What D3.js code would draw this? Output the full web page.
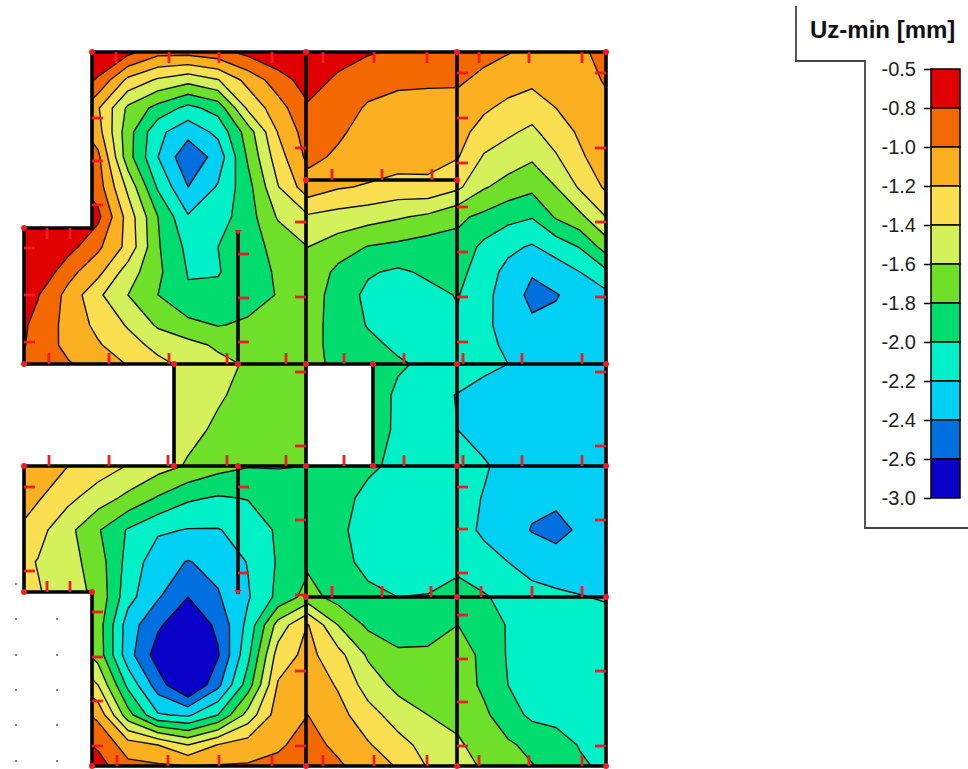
<!DOCTYPE html>
<html>
<head>
<meta charset="utf-8">
<title>Uz-min</title>
<script src="https://cdnjs.cloudflare.com/ajax/libs/d3/7.8.5/d3.min.js"></script>
<style>
  body { margin: 0; background: #fff; }
  svg { display: block; }
</style>
</head>
<body>
<div id="chart"></div>
<script>
// plan stations of the result mesh (cm on the slab)
var meshX = [-16, 14, 44, 74, 104, 134, 164, 194, 224, 254, 284, 314, 344, 374, 404, 434, 460, 484, 508, 532, 556, 584];
var meshY = [0, 28, 56, 80, 105, 135, 165, 195, 220, 243, 273, 293, 312, 343, 378, 414, 446, 478, 510, 545, 573, 603, 633, 663, 693, 718];

// Uz-min [mm], one row per meshY station
var uzRows = [
  [-0.5,-0.5,-0.5,-0.58,-0.74,-0.93,-0.93,-0.87,-0.74,-0.62,-0.55,-0.7,-0.78,-0.83,-0.87,-0.9,-0.94,-0.99,-1.05,-1.03,-1.03,-0.94],
  [-0.5,-0.5,-0.6,-0.83,-1.25,-1.43,-1.53,-1.41,-1.13,-0.9,-0.7,-0.84,-0.93,-0.97,-0.97,-0.97,-1.05,-1.11,-1.15,-1.1,-1.06,-0.98],
  [-0.55,-0.6,-0.8,-1.18,-1.64,-1.87,-2.06,-1.92,-1.36,-1.08,-0.83,-0.92,-1.02,-1.05,-1.07,-1.08,-1.17,-1.25,-1.31,-1.2,-1.1,-1.03],
  [-0.55,-0.65,-0.85,-1.12,-1.72,-2.15,-2.33,-2.15,-1.7,-1.19,-0.9,-0.97,-1.07,-1.1,-1.12,-1.13,-1.28,-1.37,-1.44,-1.3,-1.17,-1.05],
  [-0.55,-0.65,-0.8,-0.95,-1.72,-2.2,-2.55,-2.32,-1.77,-1.29,-0.95,-1.03,-1.08,-1.11,-1.13,-1.19,-1.42,-1.49,-1.57,-1.42,-1.23,-1.08],
  [-0.5,-0.55,-0.7,-0.9,-1.45,-2.03,-2.4,-2.18,-1.87,-1.41,-1.08,-1.18,-1.22,-1.27,-1.25,-1.36,-1.58,-1.68,-1.75,-1.6,-1.37,-1.15],
  [-0.5,-0.5,-0.6,-0.75,-1.28,-1.8,-2.18,-2.09,-1.89,-1.58,-1.43,-1.48,-1.52,-1.58,-1.64,-1.76,-1.85,-1.94,-1.99,-1.78,-1.65,-1.38],
  [-0.5,-0.55,-0.72,-0.96,-1.26,-1.78,-2.05,-2.0,-1.88,-1.74,-1.6,-1.7,-1.81,-1.85,-1.9,-1.87,-2.05,-2.16,-2.22,-2.12,-1.99,-1.69],
  [-0.5,-0.62,-0.93,-1.14,-1.5,-1.76,-2.01,-2.01,-1.91,-1.77,-1.65,-1.85,-1.98,-2.03,-1.97,-1.93,-2.12,-2.25,-2.38,-2.3,-2.2,-2.02],
  [-0.55,-0.79,-1.06,-1.36,-1.6,-1.8,-1.98,-1.96,-1.88,-1.79,-1.68,-1.9,-2.04,-2.07,-2.05,-1.99,-2.15,-2.28,-2.46,-2.41,-2.34,-2.24],
  [-0.7,-0.85,-1.07,-1.25,-1.42,-1.63,-1.74,-1.81,-1.77,-1.7,-1.7,-1.9,-2.01,-2.08,-2.1,-2.02,-2.16,-2.27,-2.36,-2.36,-2.36,-2.35],
  [-0.7,-0.87,-1.06,-1.18,-1.32,-1.46,-1.54,-1.63,-1.7,-1.7,-1.72,-1.88,-1.96,-2.03,-2.07,-2.03,-2.14,-2.24,-2.3,-2.32,-2.34,-2.35],
  [-0.75,-0.88,-0.98,-1.1,-1.21,-1.35,-1.45,-1.55,-1.62,-1.67,-1.72,-1.86,-1.93,-1.98,-2.03,-2.07,-2.14,-2.2,-2.28,-2.31,-2.33,-2.35],
  [-0.85,-0.95,-1.05,-1.15,-1.3,-1.4,-1.5,-1.58,-1.65,-1.68,-1.7,-1.8,-1.9,-2.03,-2.13,-2.21,-2.29,-2.33,-2.35,-2.36,-2.37,-2.38],
  [-0.95,-1.03,-1.15,-1.25,-1.35,-1.44,-1.55,-1.63,-1.66,-1.68,-1.68,-1.8,-1.88,-2.04,-2.12,-2.2,-2.27,-2.33,-2.36,-2.37,-2.37,-2.37],
  [-1.03,-1.1,-1.2,-1.3,-1.41,-1.52,-1.62,-1.73,-1.79,-1.79,-1.8,-1.85,-1.96,-2.05,-2.09,-2.13,-2.18,-2.26,-2.32,-2.34,-2.34,-2.34],
  [-1.15,-1.18,-1.35,-1.5,-1.65,-1.82,-1.97,-2.02,-1.99,-1.9,-1.82,-1.92,-2.06,-2.09,-2.12,-2.13,-2.21,-2.3,-2.36,-2.36,-2.36,-2.33],
  [-1.15,-1.33,-1.54,-1.78,-2.02,-2.17,-2.21,-2.21,-2.13,-1.97,-1.86,-1.96,-2.08,-2.11,-2.13,-2.13,-2.23,-2.31,-2.41,-2.46,-2.37,-2.32],
  [-1.3,-1.41,-1.52,-1.7,-2.07,-2.32,-2.41,-2.34,-2.19,-1.98,-1.84,-1.93,-2.06,-2.09,-2.1,-2.05,-2.14,-2.2,-2.28,-2.32,-2.33,-2.3],
  [-1.35,-1.38,-1.5,-1.65,-2.13,-2.38,-2.6,-2.42,-2.22,-1.95,-1.72,-1.88,-1.95,-2.0,-1.99,-1.93,-1.98,-2.06,-2.13,-2.16,-2.19,-2.22],
  [-1.4,-1.4,-1.5,-1.7,-2.3,-2.57,-2.75,-2.56,-2.14,-1.52,-1.19,-1.6,-1.84,-1.92,-1.92,-1.8,-1.85,-2.02,-2.08,-2.1,-2.12,-2.13],
  [-1.3,-1.3,-1.4,-1.68,-2.32,-2.7,-2.9,-2.62,-2.05,-1.31,-1.14,-1.33,-1.63,-1.76,-1.75,-1.74,-1.83,-2.02,-2.08,-2.1,-2.1,-2.12],
  [-1.0,-1.0,-1.1,-1.4,-2.05,-2.5,-2.85,-2.45,-1.9,-1.18,-1.07,-1.22,-1.49,-1.66,-1.7,-1.69,-1.84,-2.0,-2.08,-2.1,-2.1,-2.11],
  [-0.7,-0.7,-0.85,-1.05,-1.72,-2.18,-2.23,-2.0,-1.52,-1.1,-1.0,-1.13,-1.32,-1.49,-1.6,-1.64,-1.76,-1.92,-2.04,-2.05,-2.07,-2.09],
  [-0.6,-0.6,-0.7,-0.83,-1.1,-1.2,-1.4,-1.19,-1.1,-1.03,-0.92,-1.05,-1.18,-1.33,-1.47,-1.58,-1.66,-1.77,-1.85,-1.93,-2.01,-2.06],
  [-0.5,-0.5,-0.6,-0.7,-0.92,-0.93,-0.92,-0.95,-0.96,-0.93,-0.85,-0.95,-1.1,-1.2,-1.4,-1.5,-1.62,-1.7,-1.78,-1.84,-1.97,-2.03]
];

// legend classes, top to bottom
var levelLabels = ["-0.5", "-0.8", "-1.0", "-1.2", "-1.4", "-1.6", "-1.8", "-2.0", "-2.2", "-2.4", "-2.6", "-3.0"];
var bandColors = ["#e00000", "#f46800", "#fab020", "#fae050", "#d4f05a", "#6ee02a", "#00dc6e", "#00f0c8", "#00d0f4", "#0070e0", "#0a00c8"];

// slab outline and the opening, plan cm
var slabOutline = [[68,0],[582,0],[582,714],[68,714],[68,540],[0,540],[0,414],[150,414],[150,312],[0,312],[0,176],[68,176]];
var slabOpening = [[282,312],[349,312],[349,414],[282,414]];

// walls / supports as x1,y1,x2,y2
var walls = [
  [68,0,582,0],[582,0,582,714],[68,714,582,714],[68,0,68,176],[0,176,68,176],[0,176,0,312],
  [0,414,0,540],[0,540,68,540],[68,540,68,714],
  [282,0,282,714],[433,0,433,714],[282,128,433,128],[0,312,582,312],[0,414,582,414],
  [282,545,582,545],[214,180,214,312],[214,414,214,540],[150,312,150,414],[349,312,349,414]
];

// red support marks: wall position, then the stations along it
var ticksDown = [
  [0, [92,145,195,248,299,350,403,455,505,558]],
  [176, [23,46]]
];
var ticksUp = [
  [128, [308,358,408]],
  [312, [25,85,145,203,262,320,380,439,498,558]],
  [414, [25,85,144,203,262,320,380,439,498,558]],
  [540, [23,46]],
  [545, [308,358,407,457,508,558]],
  [714, [93,144,195,248,299,350,403,455,505,558]]
];
var ticksRight = [
  [0, [196,243,290,435,519]],
  [68, [66,109,153,560,605,649,694]],
  [214, [202,246,290,435,521]],
  [433, [21,66,111,155,200,245,290,435,477,521,563,607,650,694]]
];
var ticksLeft = [
  [282, [96,170,245,320,394,468,543,619,694]],
  [582, [21,96,170,245,320,394,468,619,694]]
];
var nodes = [
  [68,0],[282,0],[433,0],[582,0],[0,176],[0,312],[150,312],[214,312],[282,312],[349,312],[433,312],[582,312],
  [282,128],[433,128],[0,414],[150,414],[214,414],[282,414],[349,414],[433,414],[582,414],
  [0,540],[68,540],[282,545],[433,545],[582,545],[68,714],[282,714],[433,714],[582,714]
];
var wallEnds = [[214,180],[214,540]];
// stray grid dots left of the slab
var gridDots = [[-8,532],[-8,567],[33,567],[-8,603],[33,603],[-8,638],[33,638],[-8,673],[33,673],[-8,709],[33,709]];

var width = 968, height = 769;

var svg = d3.select("#chart").append("svg")
    .attr("width", width)
    .attr("height", height);

// plan cm to picture
var x = d3.scaleLinear().domain([0, 582]).range([24, 606]);
var y = d3.scaleLinear().domain([0, 714]).range([52, 766]);

// contour grid index to plan cm (value i sits at i + 0.5 in d3.contours)
var colToPlan = d3.scaleLinear().domain(d3.range(meshX.length)).range(meshX);
var rowToPlan = d3.scaleLinear().domain(d3.range(meshY.length)).range(meshY);

var nx = meshX.length, ny = meshY.length;
var thresholds = levelLabels.slice(1).map(Number).reverse();

var contours = d3.contours()
    .size([nx, ny])
    .thresholds(thresholds)(d3.merge(uzRows));

var contourPath = d3.geoPath(d3.geoTransform({
    point: function(cx, cy) {
        this.stream.point(x(colToPlan(cx - 0.5)), y(rowToPlan(cy - 0.5)));
    }
}));

// clip to the slab
var ringPath = d3.line().x(function(d) { return x(d[0]); }).y(function(d) { return y(d[1]); });
svg.append("clipPath").attr("id", "slab")
  .append("path")
    .attr("clip-rule", "evenodd")
    .attr("d", ringPath(slabOutline) + "Z" + ringPath(slabOpening) + "Z");

var plot = svg.append("g").attr("clip-path", "url(#slab)");

// deepest class first, each higher class painted on top
plot.selectAll(".band")
    .data(contours)
  .enter().append("path")
    .attr("class", "band")
    .attr("d", contourPath)
    .attr("fill", function(d, i) { return bandColors[bandColors.length - 1 - i]; })
    .attr("stroke", "#101010")
    .attr("stroke-width", 1.4)
    .attr("stroke-linejoin", "round");

// walls
svg.selectAll(".wall")
    .data(walls)
  .enter().append("line")
    .attr("class", "wall")
    .attr("x1", function(d) { return x(d[0]); })
    .attr("y1", function(d) { return y(d[1]); })
    .attr("x2", function(d) { return x(d[2]); })
    .attr("y2", function(d) { return y(d[3]); })
    .attr("stroke", "#000")
    .attr("stroke-width", 3.6)
    .attr("stroke-linecap", "square");

// red marks
var tickLen = 11;
var tickSegs = [];
ticksDown.forEach(function(t) { t[1].forEach(function(s) { tickSegs.push([x(s), y(t[0]), x(s), y(t[0]) + tickLen]); }); });
ticksUp.forEach(function(t) { t[1].forEach(function(s) { tickSegs.push([x(s), y(t[0]), x(s), y(t[0]) - tickLen]); }); });
ticksRight.forEach(function(t) { t[1].forEach(function(s) { tickSegs.push([x(t[0]), y(s), x(t[0]) + tickLen, y(s)]); }); });
ticksLeft.forEach(function(t) { t[1].forEach(function(s) { tickSegs.push([x(t[0]), y(s), x(t[0]) - tickLen, y(s)]); }); });

svg.selectAll(".tick-mark")
    .data(tickSegs)
  .enter().append("line")
    .attr("class", "tick-mark")
    .attr("x1", function(d) { return d[0]; })
    .attr("y1", function(d) { return d[1]; })
    .attr("x2", function(d) { return d[2]; })
    .attr("y2", function(d) { return d[3]; })
    .attr("stroke", "#ee1c25")
    .attr("stroke-width", 2.8);

svg.selectAll(".node")
    .data(nodes)
  .enter().append("circle")
    .attr("class", "node")
    .attr("cx", function(d) { return x(d[0]); })
    .attr("cy", function(d) { return y(d[1]); })
    .attr("r", 3)
    .attr("fill", "#ee1c25");

svg.selectAll(".wall-end")
    .data(wallEnds)
  .enter().append("path")
    .attr("class", "wall-end")
    .attr("transform", function(d) { return "translate(" + x(d[0]) + "," + y(d[1]) + ")"; })
    .attr("d", "M-3.5,-2 L3.5,-2 L0,3 Z")
    .attr("fill", "#ee1c25");

svg.selectAll(".grid-dot")
    .data(gridDots)
  .enter().append("circle")
    .attr("class", "grid-dot")
    .attr("cx", function(d) { return x(d[0]); })
    .attr("cy", function(d) { return y(d[1]); })
    .attr("r", 1.1)
    .attr("fill", "#666");

// legend frame
svg.append("path")
    .attr("d", "M796,6 V61 H865 V528 H968")
    .attr("fill", "none")
    .attr("stroke", "#444")
    .attr("stroke-width", 1.8);

svg.append("text")
    .attr("x", 810)
    .attr("y", 38)
    .attr("font-family", "Liberation Sans, Arial, sans-serif")
    .attr("font-size", 24)
    .attr("font-weight", "bold")
    .attr("fill", "#111")
    .text("Uz-min [mm]");

var legendY = d3.scalePoint().domain(levelLabels).range([69, 498]);

var legend = svg.append("g");

legend.selectAll(".swatch")
    .data(bandColors)
  .enter().append("rect")
    .attr("class", "swatch")
    .attr("x", 931)
    .attr("y", function(d, i) { return legendY(levelLabels[i]); })
    .attr("width", 29)
    .attr("height", function(d, i) { return legendY(levelLabels[i + 1]) - legendY(levelLabels[i]); })
    .attr("fill", function(d) { return d; })
    .attr("stroke", "#000")
    .attr("stroke-width", 1.5);

var legendAxis = legend.append("g")
    .attr("transform", "translate(931,0)")
    .call(d3.axisLeft(legendY).tickSize(7).tickPadding(8));

legendAxis.select(".domain").remove();
legendAxis.selectAll("line").attr("stroke", "#000").attr("stroke-width", 1.5);
legendAxis.selectAll("text")
    .attr("font-family", "Liberation Sans, Arial, sans-serif")
    .attr("font-size", 20)
    .attr("fill", "#222");
</script>
</body>
</html>
